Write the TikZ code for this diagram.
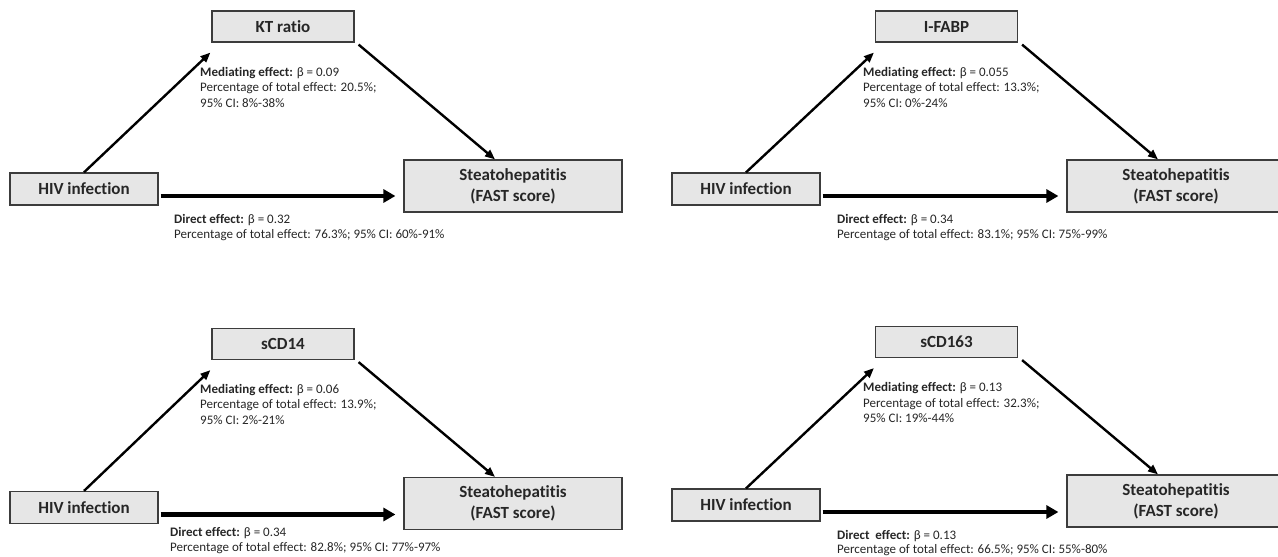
\documentclass[tikz,border=0pt]{standalone}
\usepackage{fontspec}
\setmainfont{Carlito}[Ligatures=NoCommon]
\usetikzlibrary{arrows.meta,calc}
\definecolor{boxfill}{HTML}{E6E6E6}
\definecolor{boxline}{HTML}{3C3C3C}
\definecolor{txt}{HTML}{262626}
\begin{document}
\begin{tikzpicture}[x=1pt,y=-1pt,
  box/.style={draw=boxline,fill=boxfill,line width=1.2pt,inner sep=0pt,align=center,text=txt,
    font=\fontsize{17}{21}\selectfont\bfseries},
  medbox/.style={box,minimum width=142pt,minimum height=31pt},
  hivbox/.style={box,minimum width=148pt,minimum height=32pt},
  stbox/.style={box,minimum width=218pt,minimum height=52pt},
  arr/.style={line width=2.4pt,-{Triangle[length=10pt,width=8pt]}},
  bigarr/.style={line width=4.5pt,-{Triangle[length=12pt,width=13pt]},shorten >=8pt},
  note/.style={anchor=base west,inner sep=0pt,text=txt,font=\fontsize{13}{15.5}\selectfont}]
\useasboundingbox (0,0) rectangle (1278,557);
\clip (0,0) rectangle (1278,557);

% Panel 1
\node[medbox] (m1) at (283,26.5) {KT ratio};
\node[hivbox] (h1) at (84,189) {HIV infection};
\node[stbox] (s1) at (513,186) {Steatohepatitis\\(FAST score)};
\draw[arr] (h1.north) -- ($(m1.south west)+(-1,10)$);
\draw[arr] ($(m1.south east)+(4,2)$) -- ($(s1.north)+(-18,0)$);
\coordinate (a1) at ($(h1.east)+(2,7)$);
\draw[bigarr] (a1) -- (a1 -| s1.west);
\node[note] (t1a) at (200,76) {\textbf{Mediating effect:} β = 0.09};
\node[note] (t1b) at (200,91.5) {Percentage of total effect: 20.5\%;};
\node[note] (t1c) at (200,107) {95\% CI: 8\%-38\%};
\node[note] (d1a) at (174,223) {\textbf{Direct effect:} β = 0.32};
\node[note] (d1b) at (174,238) {Percentage of total effect: 76.3\%; 95\% CI: 60\%-91\%};

% Panel 2
\node[medbox] (m2) at (946.5,26.5) {I-FABP};
\node[hivbox] (h2) at (746,189) {HIV infection};
\node[stbox] (s2) at (1176,186) {Steatohepatitis\\(FAST score)};
\draw[arr] (h2.north) -- ($(m2.south west)+(-1,10)$);
\draw[arr] ($(m2.south east)+(4,2)$) -- ($(s2.north)+(-18,0)$);
\coordinate (a2) at ($(h2.east)+(2,7)$);
\draw[bigarr] (a2) -- (a2 -| s2.west);
\node[note] (t2a) at (863,76) {\textbf{Mediating effect:} β = 0.055};
\node[note] (t2b) at (863,91.5) {Percentage of total effect: 13.3\%;};
\node[note] (t2c) at (863,107) {95\% CI: 0\%-24\%};
\node[note] (d2a) at (837,223) {\textbf{Direct effect:} β = 0.34};
\node[note] (d2b) at (837,238) {Percentage of total effect: 83.1\%; 95\% CI: 75\%-99\%};

% Panel 3
\node[medbox] (m3) at (283,344) {sCD14};
\node[hivbox] (h3) at (84,507.5) {HIV infection};
\node[stbox] (s3) at (513,503.5) {Steatohepatitis\\(FAST score)};
\draw[arr] (h3.north) -- ($(m3.south west)+(-1,10)$);
\draw[arr] ($(m3.south east)+(4,2)$) -- ($(s3.north)+(-18,0)$);
\coordinate (a3) at ($(h3.east)+(2,7)$);
\draw[bigarr] (a3) -- (a3 -| s3.west);
\node[note] (t3a) at (200,393) {\textbf{Mediating effect:} β = 0.06};
\node[note] (t3b) at (200,408.5) {Percentage of total effect: 13.9\%;};
\node[note] (t3c) at (200,424) {95\% CI: 2\%-21\%};
\node[note] (d3a) at (170,536) {\textbf{Direct effect:} β = 0.34};
\node[note] (d3b) at (170,551) {Percentage of total effect: 82.8\%; 95\% CI: 77\%-97\%};

% Panel 4
\node[medbox] (m4) at (946.5,342) {sCD163};
\node[hivbox] (h4) at (746,505) {HIV infection};
\node[stbox] (s4) at (1176,501) {Steatohepatitis\\(FAST score)};
\draw[arr] (h4.north) -- ($(m4.south west)+(-1,10)$);
\draw[arr] ($(m4.south east)+(4,2)$) -- ($(s4.north)+(-18,0)$);
\coordinate (a4) at ($(h4.east)+(2,7)$);
\draw[bigarr] (a4) -- (a4 -| s4.west);
\node[note] (t4a) at (863,391) {\textbf{Mediating effect:} β = 0.13};
\node[note] (t4b) at (863,407) {Percentage of total effect: 32.3\%;};
\node[note] (t4c) at (863,422) {95\% CI: 19\%-44\%};
\node[note] (d4a) at (837,539) {\textbf{Direct\ \ effect:} β = 0.13};
\node[note] (d4b) at (837,553) {Percentage of total effect: 66.5\%; 95\% CI: 55\%-80\%};
\end{tikzpicture}
\end{document}
